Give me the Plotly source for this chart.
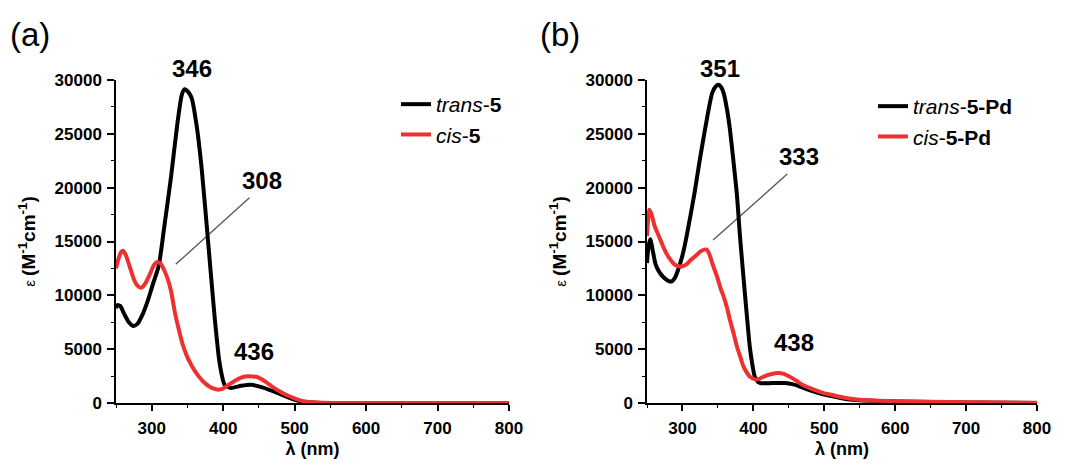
import plotly.graph_objects as go

# ---------------- data ----------------
# panel (a)
wl_a_trans = [250, 252, 256, 262, 268, 274, 280, 288, 295, 301, 310, 317, 327, 336, 342, 346, 351, 356,
              363, 370, 379, 388, 395, 402, 411, 425, 439, 457, 476, 499, 515, 530, 550, 600, 700, 800]
eps_a_trans = [8800, 9100, 9000, 8200, 7500, 7150, 7350, 8350, 9600, 10900, 12800, 16100, 21000, 26000,
               28600, 29150, 28900, 28300, 25700, 21700, 14900, 8000, 3700, 1700, 1400, 1600, 1700, 1400,
               930, 310, 100, 30, 0, 0, 0, 0]

wl_a_cis = [250, 253, 257, 260, 264, 269, 275, 280, 285, 290, 297, 303, 308, 313, 317, 322, 327, 333,
            338, 343, 349, 354, 360, 366, 372, 379, 386, 393, 400, 408, 416, 425, 434, 442, 448, 455,
            462, 470, 480, 490, 499, 512, 525, 540, 560, 800]
eps_a_cis = [12500, 13300, 14000, 14150, 13700, 12700, 11500, 10900, 10700, 11000, 11900, 12800, 13100,
             12900, 12400, 11600, 10400, 8200, 6800, 5500, 4400, 3700, 3000, 2450, 2000, 1600, 1350, 1230,
             1350, 1700, 2050, 2350, 2480, 2470, 2400, 2150, 1850, 1450, 1050, 700, 450, 160, 60, 20, 0, 0]

# panel (b)
wl_b_trans = [250, 252, 254.6, 258, 262, 267, 273, 280, 285, 290, 294, 300, 305, 311, 317, 324, 331, 337,
              342, 347, 351, 355, 358, 363, 367, 372, 377, 381, 386, 391, 395, 399, 402, 406, 410, 427,
              445, 455, 465, 474, 483, 492, 510, 530, 550, 600, 700, 800]
eps_b_trans = [13000, 14500, 15200, 14200, 12900, 12200, 11700, 11350, 11300, 11700, 12400, 13700, 15200,
               17300, 19500, 22400, 25100, 27300, 28800, 29400, 29550, 29300, 28800, 27200, 25400, 22400,
               19200, 15600, 11700, 8000, 5200, 3400, 2450, 2000, 1850, 1850, 1850, 1750, 1550, 1300,
               1100, 930, 650, 380, 250, 150, 50, 0]

wl_b_cis = [250, 251.5, 253, 256, 261, 268, 275, 282, 289, 295, 300, 306, 312, 319, 326, 331, 334, 338,
            343, 349, 354, 358, 363, 367, 372, 377, 382, 386, 391, 395, 400, 404, 410, 418, 426, 434,
            442, 450, 460, 469, 480, 492, 500, 510, 520, 535, 550, 575, 600, 650, 700, 750, 800]
eps_b_cis = [15500, 17000, 17950, 17600, 16400, 15300, 14200, 13400, 12850, 12700, 12700, 12900, 13300,
             13700, 14100, 14250, 14250, 13800, 12800, 11700, 10600, 9900, 8800, 7700, 6500, 5200, 4200,
             3400, 2800, 2450, 2250, 2170, 2300, 2550, 2700, 2780, 2730, 2480, 2100, 1700, 1380, 1080,
             900, 770, 600, 420, 300, 220, 170, 120, 80, 40, 20]

# pointer lines (nm, epsilon)
ptr_a_x = [333.6, 436.7]
ptr_a_y = [12880, 19060]
ptr_b_x = [343.2, 447.7]
ptr_b_y = [15130, 21260]

# peak labels: (text, nm, vertical position as fraction of plot height)
labels_a = [("346", 356, 1.037), ("308", 454, 0.690), ("436", 443, 0.158)]
labels_b = [("351", 353.5, 1.037), ("333", 464, 0.762), ("438", 457, 0.186)]

x_ticks = [300, 400, 500, 600, 700, 800]
y_ticks = [0, 5000, 10000, 15000, 20000, 25000, 30000]

names_a = ["<i>trans</i>-<b>5</b>", "<i>cis</i>-<b>5</b>"]
names_b = ["<i>trans</i>-<b>5-Pd</b>", "<i>cis</i>-<b>5-Pd</b>"]

BLACK = "#000000"
RED = "#ee3030"
FONT = "Arial, Liberation Sans, sans-serif"

fig = go.Figure()

# panel (a)
fig.add_trace(go.Scatter(x=ptr_a_x, y=ptr_a_y, mode="lines", line=dict(color="#555555", width=1.3),
                         showlegend=False, xaxis="x", yaxis="y", hoverinfo="skip"))
fig.add_trace(go.Scatter(x=wl_a_trans, y=eps_a_trans, mode="lines", name=names_a[0],
                         line=dict(color=BLACK, width=4, shape="spline", smoothing=0.6),
                         xaxis="x", yaxis="y", legend="legend"))
fig.add_trace(go.Scatter(x=wl_a_cis, y=eps_a_cis, mode="lines", name=names_a[1],
                         line=dict(color=RED, width=4, shape="spline", smoothing=0.6),
                         xaxis="x", yaxis="y", legend="legend"))
# panel (b)
fig.add_trace(go.Scatter(x=ptr_b_x, y=ptr_b_y, mode="lines", line=dict(color="#555555", width=1.3),
                         showlegend=False, xaxis="x2", yaxis="y2", hoverinfo="skip"))
fig.add_trace(go.Scatter(x=wl_b_trans, y=eps_b_trans, mode="lines", name=names_b[0],
                         line=dict(color=BLACK, width=4, shape="spline", smoothing=0.6),
                         xaxis="x2", yaxis="y2", legend="legend2"))
fig.add_trace(go.Scatter(x=wl_b_cis, y=eps_b_cis, mode="lines", name=names_b[1],
                         line=dict(color=RED, width=4, shape="spline", smoothing=0.6),
                         xaxis="x2", yaxis="y2", legend="legend2"))

# plot area: pixels 116..1037 horizontally, 80..403 vertically
ML, MR, MT, MB = 116, 30, 80, 62
PW = 1067 - ML - MR
PH = 465 - MT - MB

def px_x(p):
    return (p - ML) / PW

def px_y(p):
    return (465 - MB - p) / PH

def xax(domain, anchor):
    return dict(domain=domain, anchor=anchor, range=[250, 800], tickvals=x_ticks, automargin=False,
                showline=True, linecolor="black", linewidth=1.5, mirror=False,
                ticks="outside", ticklen=6, tickwidth=1.5, tickcolor="black", ticklabelstandoff=3,
                minor=dict(dtick=50, tick0=0, ticks="outside", ticklen=3, tickwidth=1.2, tickcolor="black"),
                showgrid=False, zeroline=False,
                tickfont=dict(family=FONT, size=17, color="black", weight="bold"),
                title=dict(text="<b>λ (nm)</b>", font=dict(family=FONT, size=18, color="black"), standoff=5))

def yax(anchor):
    return dict(domain=[0, 1], anchor=anchor, range=[0, 30000], tickvals=y_ticks, tickformat="d",
                automargin=False,
                showline=True, linecolor="black", linewidth=1.5, mirror=False,
                ticks="outside", ticklen=7, tickwidth=1.5, tickcolor="black", ticklabelstandoff=2,
                minor=dict(dtick=2500, ticks="outside", ticklen=3, tickwidth=1.2, tickcolor="black"),
                showgrid=False, zeroline=False,
                tickfont=dict(family=FONT, size=17, color="black", weight="bold"),
                title=dict(text="<span style='font-size:15px'>ε </span><b>(M<sup>-1</sup>cm<sup>-1</sup>)</b>",
                           font=dict(family=FONT, size=19, color="black"), standoff=14))

annotations = []
for txt, xv, yv in labels_a:
    annotations.append(dict(text="<b>%s</b>" % txt, x=xv, y=yv, xref="x", yref="paper", showarrow=False,
                            font=dict(family=FONT, size=24, color="black"), xanchor="center", yanchor="middle"))
for txt, xv, yv in labels_b:
    annotations.append(dict(text="<b>%s</b>" % txt, x=xv, y=yv, xref="x2", yref="paper", showarrow=False,
                            font=dict(family=FONT, size=24, color="black"), xanchor="center", yanchor="middle"))
annotations.append(dict(text="(a)", x=px_x(30), y=px_y(35), xref="paper", yref="paper", showarrow=False,
                        font=dict(family=FONT, size=33, color="black"), xanchor="center", yanchor="middle"))
annotations.append(dict(text="(b)", x=px_x(560), y=px_y(35), xref="paper", yref="paper", showarrow=False,
                        font=dict(family=FONT, size=33, color="black"), xanchor="center", yanchor="middle"))

legend_style = dict(font=dict(family=FONT, size=21, color="black"), bgcolor="rgba(0,0,0,0)",
                    borderwidth=0, xanchor="left", yanchor="top", itemwidth=30, tracegroupgap=0)

fig.update_layout(
    width=1067, height=465,
    margin=dict(l=ML, r=MR, t=MT, b=MB, autoexpand=False),
    paper_bgcolor="white", plot_bgcolor="white",
    xaxis=xax([0, px_x(509)], "y"),
    yaxis=yax("x"),
    xaxis2=xax([px_x(647), 1], "y2"),
    yaxis2=yax("x2"),
    legend=dict(x=px_x(396), y=px_y(84), **legend_style),
    legend2=dict(x=px_x(873), y=px_y(86), **legend_style),
    annotations=annotations,
    showlegend=True,
)

fig.write_html("out.html",
               config={"displayModeBar": False},
               post_script="document.body.style.margin='0';document.body.style.padding='0';"
                           "document.body.style.overflow='hidden';")
